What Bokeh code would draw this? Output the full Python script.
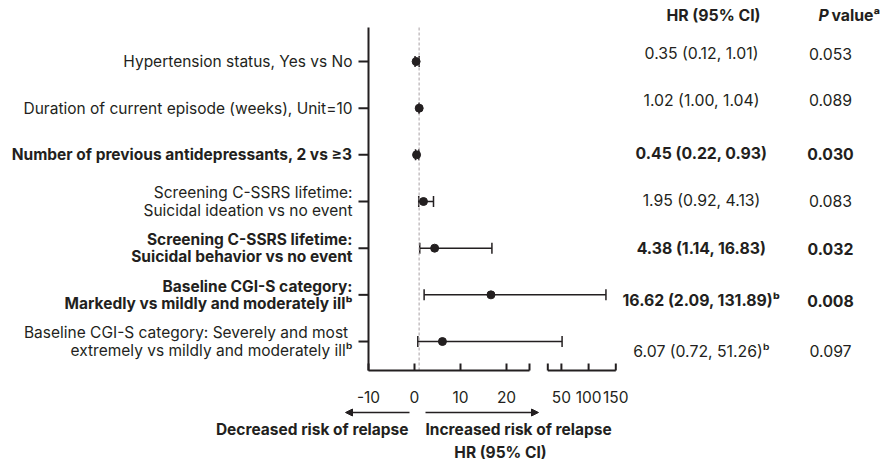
import numpy as np
from bokeh.plotting import figure
from bokeh.models import ColumnDataSource, Range1d, Whisker, TeeHead, Arrow, NormalHead
from bokeh.core.properties import value
from bokeh.embed import file_html
from bokeh.resources import INLINE

# ---------------- data ----------------
labels = [
    "Hypertension status, Yes vs No",
    "Duration of current episode (weeks), Unit=10",
    "Number of previous antidepressants, 2 vs \u22653",
    "Screening C-SSRS lifetime:\nSuicidal ideation vs no event",
    "Screening C-SSRS lifetime:\nSuicidal behavior vs no event",
    "Baseline CGI-S category:\nMarkedly vs mildly and moderately ill\u1d47",
    "Baseline CGI-S category: Severely and most \nextremely vs mildly and moderately ill\u1d47",
]
hr = [0.35, 1.02, 0.45, 1.95, 4.38, 16.62, 6.07]
ci_low = [0.12, 1.00, 0.22, 0.92, 1.14, 2.09, 0.72]
ci_high = [1.01, 1.04, 0.93, 4.13, 16.83, 131.89, 51.26]
p_values = ["0.053", "0.089", "0.030", "0.083", "0.032", "0.008", "0.097"]
significant = [False, False, True, False, True, True, False]
footnote_b = [False, False, False, False, False, True, True]
left_ticks = [-10, 0, 10, 20]
right_ticks = [50, 100, 150]
axis_break = 25
axis_max = 150
ref_hr = 1

# ---------------- layout helpers (page pixels -> data) ----------------
INK = "#231f20"
FONT = "Inter"
LAB_FS = "15.5px"
VAL_FS = "15.8px"
PXU = 4.6          # pixels per HR unit on the left segment
ROWPX = 46.67      # pixels per row
W, H = 880, 463


def px2x(px):
    return (px - 414.0) / PXU


def py2y(py):
    return (py - 61.0) / ROWPX


GAP = (547.3 - 529.0) / PXU
K = (615.3 - 547.3) / (axis_max - axis_break) / PXU


def tx(v):
    v = np.asarray(v, dtype=float)
    return np.where(v <= axis_break, v, axis_break + GAP + (v - axis_break) * K)


rows = np.arange(len(labels), dtype=float)
axis_y = py2y(370)
top_y = py2y(27)
tick_len = 7 / ROWPX

p = figure(width=W, height=H,
           x_range=Range1d(px2x(0), px2x(W)),
           y_range=Range1d(py2y(H), py2y(0)),
           x_axis_location=None, y_axis_location=None,
           min_border_left=0, min_border_right=0, min_border_top=0, min_border_bottom=0,
           toolbar_location=None, output_backend="svg")
p.outline_line_color = None
p.grid.grid_line_color = None
p.background_fill_color = "white"

# y axis (line + ticks)
p.segment(x0=[left_ticks[0]], x1=[left_ticks[0]], y0=[top_y], y1=[axis_y],
          line_color=INK, line_width=2)
p.segment(x0=[left_ticks[0] - 10 / PXU] * len(rows), x1=[left_ticks[0]] * len(rows),
          y0=rows, y1=rows, line_color=INK, line_width=2)

# reference line HR = 1
p.segment(x0=[ref_hr], x1=[ref_hr], y0=[top_y], y1=[axis_y],
          line_color="#a8a0a4", line_width=1, line_dash="3 2")

# row labels
for flag, style in ((False, "normal"), (True, "bold")):
    idx = [i for i, s in enumerate(significant) if s == flag]
    src = ColumnDataSource(dict(x=[px2x(352)] * len(idx), y=rows[idx],
                                text=[labels[i] for i in idx]))
    p.text(x="x", y="y", text="text", source=src, text_align="right",
           text_baseline="middle", text_font=value(FONT), text_font_size=LAB_FS,
           text_font_style=style, text_color=INK, text_line_height=0.9)

# CIs and points
src = ColumnDataSource(dict(y=rows, hr=tx(hr), lo=tx(ci_low), hi=tx(ci_high)))
p.add_layout(Whisker(source=src, base="y", lower="lo", upper="hi", dimension="width",
                     line_color=INK, line_width=1.5,
                     lower_head=TeeHead(size=11, line_color=INK, line_width=1.5),
                     upper_head=TeeHead(size=11, line_color=INK, line_width=1.5)))
p.scatter(x="hr", y="y", source=src, size=8, color=INK)

# broken x axis
break_right = axis_break + GAP
p.segment(x0=[left_ticks[0], break_right], x1=[axis_break, float(tx(axis_max))],
          y0=[axis_y, axis_y], y1=[axis_y, axis_y], line_color=INK, line_width=2)
tick_pos = list(left_ticks) + [axis_break, break_right] + list(tx(right_ticks))
p.segment(x0=tick_pos, x1=tick_pos, y0=[axis_y] * len(tick_pos),
          y1=[axis_y - tick_len] * len(tick_pos), line_color=INK, line_width=2)
all_ticks = list(left_ticks) + list(right_ticks)
p.text(x=list(tx(all_ticks)), y=[py2y(396.5)] * len(all_ticks),
       text=[str(t) for t in all_ticks], text_align="center", text_baseline="middle",
       text_font=value(FONT), text_font_size=LAB_FS, text_color=INK)

# direction arrows and texts
ya = py2y(412)
p.add_layout(Arrow(end=NormalHead(size=7, fill_color=INK, line_color=INK, line_width=1),
                   x_start=px2x(409), y_start=ya, x_end=px2x(345), y_end=ya,
                   line_color=INK, line_width=1.5))
p.add_layout(Arrow(end=NormalHead(size=7, fill_color=INK, line_color=INK, line_width=1),
                   x_start=px2x(425), y_start=ya, x_end=px2x(538), y_end=ya,
                   line_color=INK, line_width=1.5))
p.text(x=[px2x(408)], y=[py2y(428.5)], text=["Decreased risk of relapse"],
       text_align="right", text_baseline="middle", text_font=value(FONT),
       text_font_size=LAB_FS, text_font_style="bold", text_color=INK)
p.text(x=[px2x(425)], y=[py2y(428.5)], text=["Increased risk of relapse"],
       text_align="left", text_baseline="middle", text_font=value(FONT),
       text_font_size=LAB_FS, text_font_style="bold", text_color=INK)
p.text(x=[px2x(500)], y=[py2y(451.5)], text=["HR (95% CI)"],
       text_align="center", text_baseline="middle", text_font=value(FONT),
       text_font_size=LAB_FS, text_font_style="bold", text_color=INK)

# table headers
p.text(x=[px2x(713)], y=[py2y(14.5)], text=["HR (95% CI)"], text_align="center",
       text_baseline="middle", text_font=value(FONT), text_font_size=VAL_FS,
       text_font_style="bold", text_color=INK)
p.text(x=[px2x(818)], y=[py2y(14.5)], text=["P"], text_align="left",
       text_baseline="middle", text_font=value(FONT), text_font_size=VAL_FS,
       text_font_style="bold italic", text_color=INK)
p.text(x=[px2x(831)], y=[py2y(14.5)], text=["value\u1d43"], text_align="left",
       text_baseline="middle", text_font=value(FONT), text_font_size=VAL_FS,
       text_font_style="bold", text_color=INK)

# table values
text_dy = [-7.7, -7.7, -1.0, -1.0, 0.6, 5.7, 9.7]
hr_txt = [f"{h:.2f} ({l:.2f}, {u:.2f})" + ("\u1d47" if b else "")
          for h, l, u, b in zip(hr, ci_low, ci_high, footnote_b)]
for flag, style in ((False, "normal"), (True, "bold")):
    idx = [i for i, s in enumerate(significant) if s == flag]
    ty = [rows[i] + text_dy[i] / ROWPX for i in idx]
    p.text(x=[px2x(701)] * len(idx), y=ty, text=[hr_txt[i] for i in idx],
           text_align="center", text_baseline="middle", text_font=value(FONT),
           text_font_size=VAL_FS, text_font_style=style, text_color=INK)
    p.text(x=[px2x(830)] * len(idx), y=ty, text=[p_values[i] for i in idx],
           text_align="center", text_baseline="middle", text_font=value(FONT),
           text_font_size=VAL_FS, text_font_style=style, text_color=INK)

open("out.html", "w").write(file_html(p, INLINE))
